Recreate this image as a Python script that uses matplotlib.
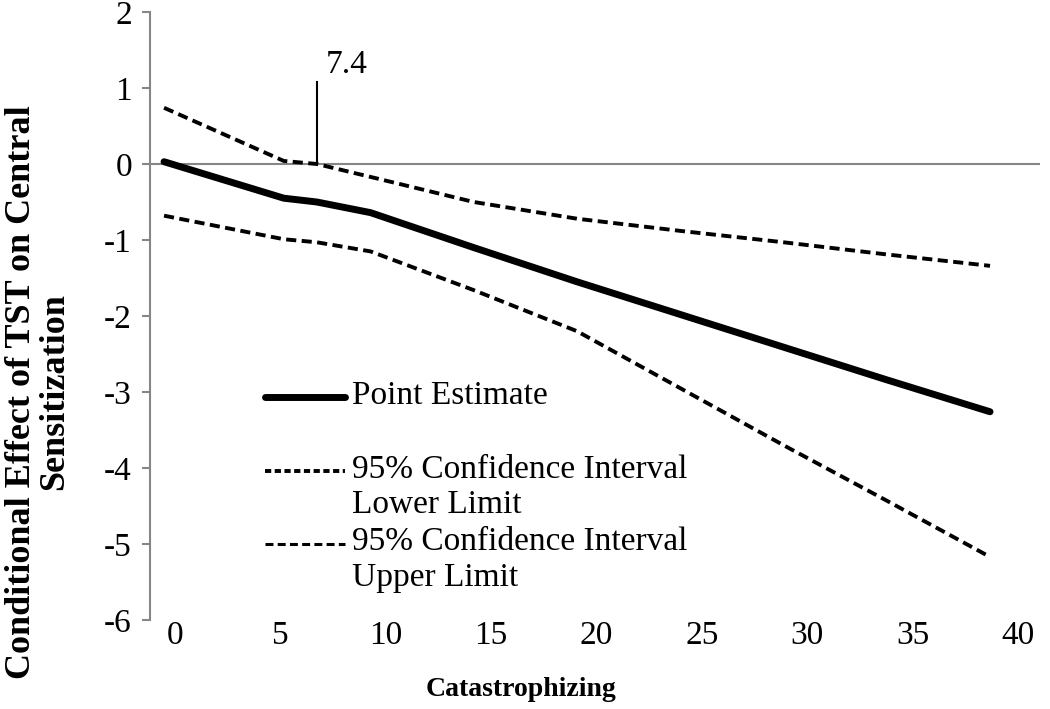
# Johnson-Neyman style plot: conditional effect of TST across catastrophizing
import matplotlib
matplotlib.use("Agg")
import matplotlib.pyplot as plt

plt.rcParams['font.family'] = ['Liberation Serif', 'DejaVu Serif']

# data
catastrophizing = [0, 5.8, 7.4, 10, 15, 20, 25, 30, 35, 40]
point_estimate = [0.03, -0.45, -0.50, -0.64, -1.10, -1.55, -1.98, -2.41, -2.84, -3.26]
ci_lower = [-0.68, -0.99, -1.03, -1.15, -1.66, -2.20, -2.95, -3.70, -4.43, -5.17]
ci_upper = [0.74, 0.04, 0.00, -0.17, -0.50, -0.72, -0.88, -1.03, -1.19, -1.34]
jn_point = 7.4
x_ticks = [0, 5, 10, 15, 20, 25, 30, 35, 40]
y_ticks = [2, 1, 0, -1, -2, -3, -4, -5, -6]

W, H = 1050, 709
fig = plt.figure(figsize=(W / 100, H / 100), dpi=100)
ax = fig.add_axes([150 / W, 1 - 620 / H, 890 / W, 608 / H])

gray = '#868686'

# zero line acts as the x axis
ax.axhline(0, color=gray, lw=1.5, zorder=1)

ax.plot(catastrophizing, point_estimate, color='black', lw=5,
        solid_capstyle='round', solid_joinstyle='round', zorder=3)
ax.plot(catastrophizing, ci_lower, color='black', lw=2.8,
        dashes=(2.6, 1.4), dash_capstyle='butt', zorder=3)
ax.plot(catastrophizing, ci_upper, color='black', lw=2.8,
        dashes=(2.6, 1.4), dash_capstyle='butt', zorder=3)

# Johnson-Neyman marker
ax.plot([jn_point, jn_point], [0, 1.08], color='black', lw=1.5, zorder=2)
ax.text(jn_point + 0.45, 1.2, '7.4', fontsize=24, ha='left', va='baseline')

ax.set_xlim(-0.68, 42.42)
ax.set_ylim(-6, 2)

for s in ['top', 'right', 'bottom']:
    ax.spines[s].set_visible(False)
ax.spines['left'].set_color(gray)
ax.spines['left'].set_linewidth(1.5)

ax.set_yticks(y_ticks)
ax.set_yticklabels([str(v) for v in y_ticks])
ax.tick_params(axis='y', direction='out', length=6, width=1.5, color=gray,
               labelsize=24, pad=7)

# the printed category labels in the original sit on a slightly wider scale
# than the plotted data, so they get their own axis
sec = ax.secondary_xaxis('bottom', functions=(lambda x: (x - 0.533) / 1.0203,
                                              lambda v: v * 1.0203 + 0.533))
sec.set_xticks(x_ticks)
sec.set_xticklabels([str(v) for v in x_ticks])
sec.tick_params(axis='x', length=0, labelsize=24, pad=0)
sec.spines['bottom'].set_visible(False)
ax.set_xticks([])

# manual legend (handles sit next to the first line of each label)
def ax_xy(px, py):
    return (px - 150) / 890, (620 - py) / 608

lx0, _ = ax_xy(265, 0)
lx1, _ = ax_xy(345, 0)
tx, _ = ax_xy(352, 0)
legend_rows = [
    (397, 'Point Estimate', dict(lw=5, solid_capstyle='round')),
    (471, '95% Confidence Interval\nLower Limit', dict(lw=2.8, dashes=(1.6, 0.9), dash_capstyle='butt')),
    (544, '95% Confidence Interval\nUpper Limit', dict(lw=2.2, dashes=(2.6, 1.4), dash_capstyle='butt')),
]
for py, label, style in legend_rows:
    _, ly = ax_xy(0, py)
    ax.plot([lx0, lx1], [ly, ly], color='black', transform=ax.transAxes,
            clip_on=False, **style)
    ax.text(tx, ly + 17 / 608, label, transform=ax.transAxes, fontsize=24,
            ha='left', va='top', linespacing=1.2)

fig.text(38 / W, 1 - 392 / H, 'Conditional Effect of TST on Central\nSensitization',
         rotation=90, ha='center', va='center', fontsize=26, fontweight='bold',
         linespacing=0.98, multialignment='center')
fig.text(521 / W, 1 - 690 / H, 'Catastrophizing', ha='center', va='center',
         fontsize=20, fontweight='bold')

fig.savefig('out.png', dpi=100)
